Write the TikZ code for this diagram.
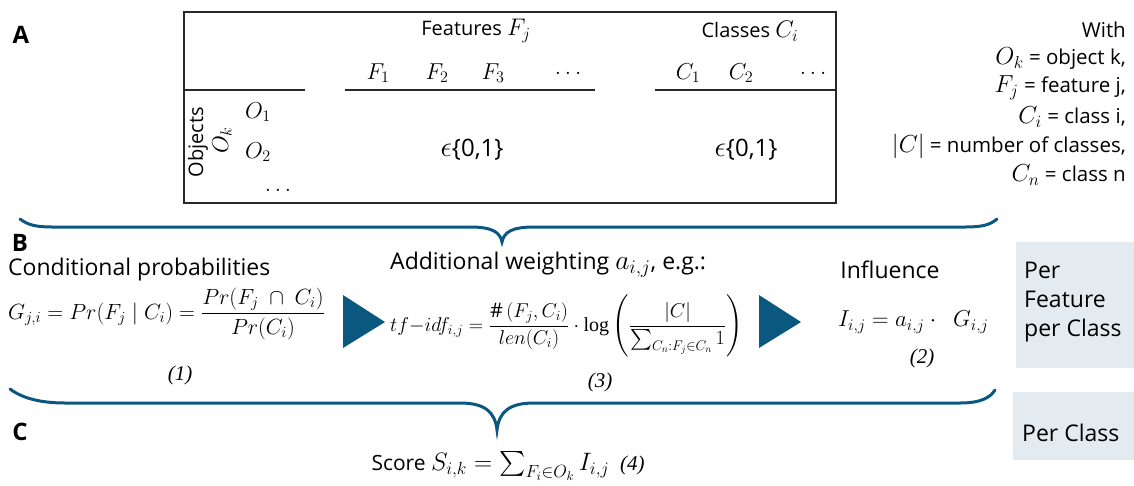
\RequirePackage{fix-cm}
\documentclass[tikz,border=0pt]{standalone}
\usepackage{amsmath}
\usepackage{fontspec}
\setmainfont{Open Sans}
\newfontfamily\eqnfont{Liberation Serif}
\definecolor{bracecol}{RGB}{10,88,128}
\definecolor{boxcol}{RGB}{227,235,241}
\definecolor{tabline}{RGB}{40,40,40}
\newcommand\M[1]{\scalebox{1.2}{$#1$}}
\newcommand\serlog{\mathop{\text{\eqnfont log}}}
\tikzset{
  lbl/.style={font=\fontsize{24}{28}\selectfont\bfseries, inner sep=0pt},
  txt/.style={font=\fontsize{23}{28}\selectfont, inner sep=0pt},
  tab/.style={font=\fontsize{20}{24}\selectfont, inner sep=0pt},
  tabm/.style={font=\fontsize{23}{26}\selectfont, inner sep=0pt},
  leg/.style={font=\fontsize{20.5}{24}\selectfont, inner sep=0pt, anchor=east},
  frm/.style={font=\fontsize{22}{26}\selectfont, inner sep=0pt},
  eqn/.style={font=\fontsize{21}{24}\selectfont\eqnfont\itshape, inner sep=0pt},
  brace/.style={draw=bracecol, line width=3pt, line cap=round},
  tri/.style={fill=bracecol},
  sidebox/.style={fill=boxcol, draw=none}
}
\begin{document}
\begin{tikzpicture}[x=1pt,y=-1pt]
\useasboundingbox (0,0) rectangle (1134,485);
% ---------- A ----------
\node[lbl] (A) at (21,35) {A};
\draw[tabline, line width=1.3pt] (184,12) rectangle (836,203);
\draw[tabline, line width=1.3pt] (184,90) -- (305,90);
\draw[tabline, line width=1.3pt] (345,90) -- (595,90);
\draw[tabline, line width=1.3pt] (655,90) -- (836,90);
\node[tab] (feat) at (476,31) {Features \M{F_j}};
\node[tab] (cls) at (750,31) {Classes \M{C_i}};
\node[tabm] (f1) at (378,73) {$F_1$};
\node[tabm] (f2) at (437,73) {$F_2$};
\node[tabm] (f3) at (493,73) {$F_3$};
\node[tabm] (fd) at (570,73) {$\dots$};
\node[tabm] (c1) at (688,73) {$C_1$};
\node[tabm] (c2) at (741,73) {$C_2$};
\node[tabm] (cd) at (815,73) {$\dots$};
\node[tab, rotate=90] (obj) at (198,142) {Objects};
\node[tabm, rotate=90] (ok) at (222,140) {$O_k$};
\node[tabm] (o1) at (258,112) {$O_1$};
\node[tabm] (o2) at (258,152) {$O_2$};
\node[tabm] (od) at (280,190) {$\dots$};
\node[tab, font=\fontsize{24}{28}\selectfont] (v1) at (472,150) {\M{\epsilon}\{0,1\}};
\node[tab, font=\fontsize{24}{28}\selectfont] (v2) at (746,150) {\M{\epsilon}\{0,1\}};
% legend
\node[leg] (w0) at (1126,30) {With};
\node[leg] (w1) at (1126,59) {\M{O_k} = object k,};
\node[leg] (w2) at (1126,88) {\M{F_j} = feature j,};
\node[leg] (w3) at (1126,117) {\M{C_i} = class i,};
\node[leg] (w4) at (1126,146) {\M{|C|} = number of classes,};
\node[leg] (w5) at (1126,175) {\M{C_n} = class n};
% ---------- brace 1 ----------
\draw[brace] (20,219) .. controls (28,225) and (36,227) .. (52,227) -- (470,227)
  .. controls (492,227) and (500,232) .. (502,242)
  .. controls (504,232) and (512,227) .. (534,227) -- (965,227)
  .. controls (982,227) and (990,225) .. (997,219);
% ---------- B ----------
\node[lbl] (B) at (20,243) {B};
\node[txt, anchor=west] (cp) at (8,270) {Conditional probabilities};
\node[frm, anchor=west] (eqG) at (8,314) {$G_{j,i} = Pr(F_j \mid C_i) = \dfrac{Pr(F_j\ \cap\ C_i)}{Pr(C_i)}$};
\node[eqn] (n1) at (180,375) {(1)};
\fill[tri] (343,295) -- (385,322) -- (343,348) -- cycle;
\node[txt, anchor=west] (aw) at (390,265) {Additional weighting \M{a_{i,j}}, e.g.:};
\node[frm, anchor=west, font=\fontsize{20}{24}\selectfont] (eqT) at (390,326) {$tf{-}idf_{i,j} = \dfrac{\#\,(F_j, C_i)}{len(C_i)} \cdot \serlog\left(\dfrac{|C|}{\textstyle\sum_{C_n : F_j \in C_n} 1}\right)$};
\node[eqn] (n3) at (600,382) {(3)};
\fill[tri] (759,295) -- (801,322) -- (759,348) -- cycle;
\node[txt] (inf) at (890,270) {Influence};
\node[frm, anchor=west, font=\fontsize{23}{27}\selectfont] (eqI) at (838,322) {$I_{i,j} = a_{i,j}\cdot\ \ G_{i,j}$};
\node[eqn] (n2) at (922,358) {(2)};
\fill[sidebox] (1016,242) rectangle (1134,368);
\node[txt, anchor=north west, align=left, font=\fontsize{23}{29}\selectfont] (pf) at (1024,262) {Per\\Feature\\per Class};
% ---------- brace 2 ----------
\draw[brace] (10,389) .. controls (22,398) and (40,403) .. (65,403) -- (460,403)
  .. controls (485,403) and (495,412) .. (497,430)
  .. controls (499,412) and (509,403) .. (534,403) -- (960,403)
  .. controls (980,403) and (990,398) .. (995,390);
% ---------- C ----------
\node[lbl] (C) at (20,432) {C};
\fill[sidebox] (1013,392) rectangle (1134,460);
\node[txt, anchor=west, font=\fontsize{23}{27}\selectfont] (pc) at (1022,433) {Per Class};
\node[txt, font=\fontsize{21}{25}\selectfont] (score) at (508,466) {Score \M{S_{i,k} = \textstyle\sum_{F_i \in O_k} I_{i,j}} {\eqnfont\itshape\ (4)}};
\end{tikzpicture}
\end{document}
